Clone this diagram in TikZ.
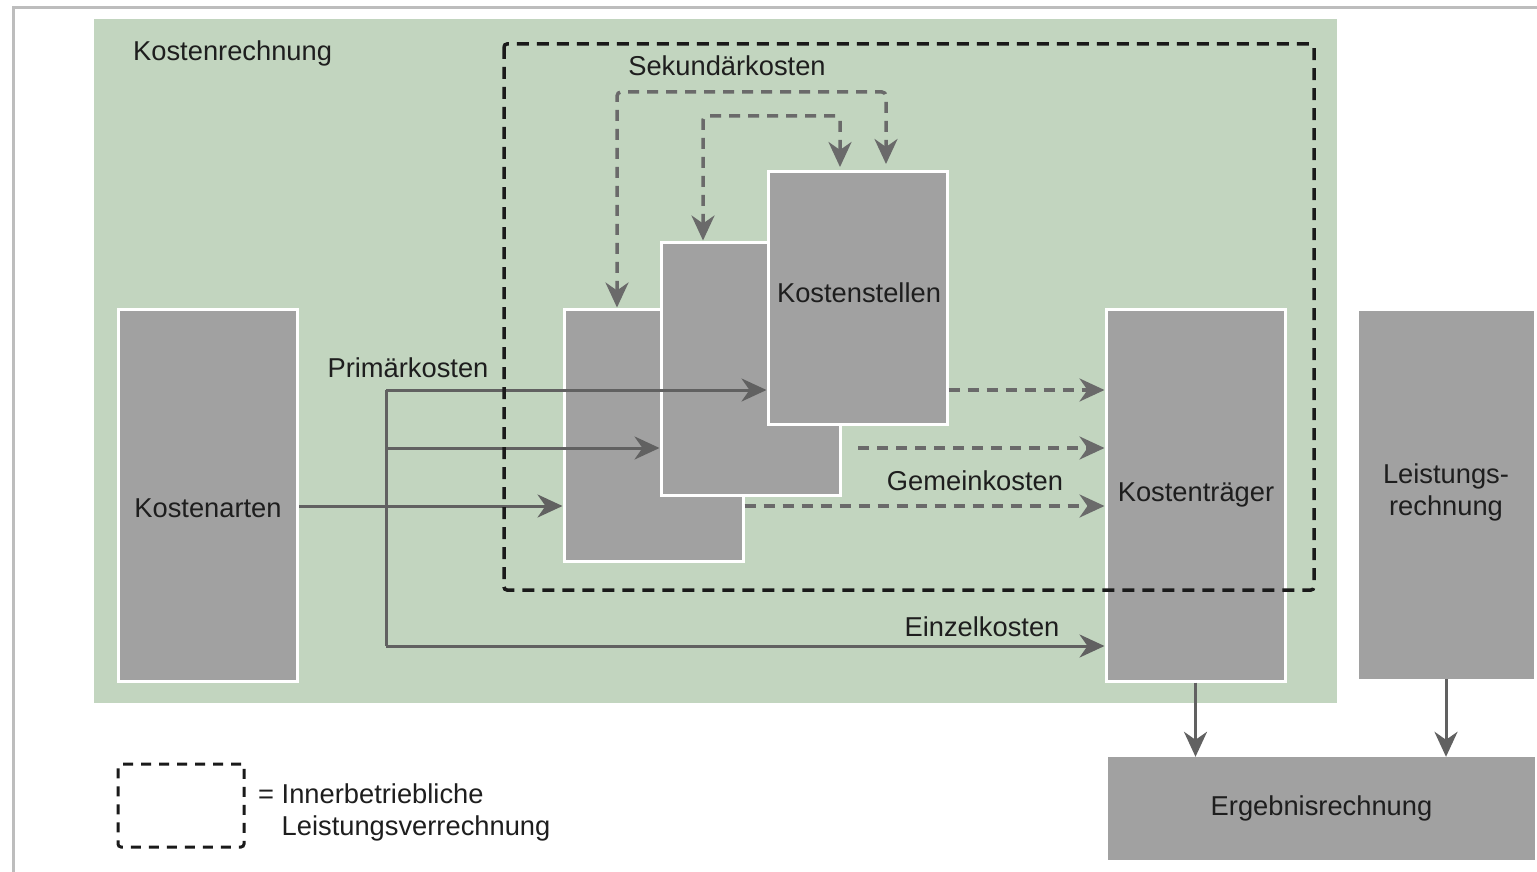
\documentclass[tikz,border=0pt]{standalone}
\usepackage{fontspec}
\setmainfont{Liberation Sans}
\usetikzlibrary{arrows.meta,calc}
\definecolor{bgreen}{HTML}{C2D5BF}
\definecolor{bgray}{HTML}{A1A1A1}
\definecolor{agray}{HTML}{616161}
\definecolor{dgray}{HTML}{6A6A6A}
\definecolor{txt}{HTML}{1E1E1E}
\definecolor{framegray}{HTML}{BDBDBD}
\definecolor{kdark}{HTML}{1A1A1A}
\begin{document}
\begin{tikzpicture}[x=1pt,y=-1pt,
  every node/.style={font=\fontsize{27.3}{32}\selectfont, text=txt},
  box/.style={fill=bgray, draw=white, line width=3pt, inner sep=0pt},
  plainbox/.style={fill=bgray, inner sep=0pt},
  lbl/.style={inner sep=0pt},
  tip/.style={-{Stealth[length=25pt,width=23pt,inset=8pt]}},
  arr/.style={draw=agray, line width=3pt, tip},
  sline/.style={draw=agray, line width=3pt},
  darr/.style={draw=dgray, line width=3.5pt, dash pattern=on 11pt off 8pt, tip},
  kdash/.style={draw=kdark, line width=3.5pt, dash pattern=on 12pt off 8pt, rounded corners=3pt}
]
\useasboundingbox (0,0) rectangle (1537,872);
\fill[white] (0,0) rectangle (1537,872);
\draw[framegray, line width=3pt] (13.5,872) -- (13.5,7.5) -- (1537,7.5);
\fill[bgreen] (94,19) rectangle (1337,703);

\node[lbl, anchor=west] (kr) at (133,53) {Kostenrechnung};

% boxes
\node[box, minimum width=179, minimum height=372] (ka) at (208,495) {};
\node[lbl] (kat) at (208,508) {Kostenarten};
\node[box, minimum width=179, minimum height=252] (ks1) at (653.5,435) {};
\node[box, minimum width=179, minimum height=253] (ks2) at (750.5,368.5) {};
\node[box, minimum width=179, minimum height=252] (ks3) at (857.5,298) {};
\node[lbl] (kst) at (859,293) {Kostenstellen};
\node[box, minimum width=179, minimum height=372] (kt) at (1195.5,495) {};
\node[lbl] (ktt) at (1196,495) {Kostenträger};
\node[plainbox, minimum width=175, minimum height=368] (lr) at (1446,495) {};
\node[lbl, align=center] (lrt) at (1446,492) {Leistungs-\\rechnung};
\node[plainbox, minimum width=427, minimum height=103] (er) at (1321.5,808.5) {Ergebnisrechnung};

% labels
\node[lbl] (sek) at (727,66) {Sekundärkosten};
\node[lbl] (pri) at (408,368) {Primärkosten};
\node[lbl] (gem) at (975,481) {Gemeinkosten};
\node[lbl] (ein) at (982,627) {Einzelkosten};

% primary cost arrows
\coordinate (b1) at (386,390);
\coordinate (b2) at (386,448);
\coordinate (b0) at (386,506);
\coordinate (b3) at (386,646);
\draw[sline] (b1) -- (b3);
\draw[arr] (ka.east |- b0) -- (ks1.west |- b0);
\draw[arr] (b1) -- (ks3.west |- b1);
\draw[arr] (b2) -- (ks2.west |- b2);
\draw[arr] (b3) -- (kt.west |- b3);

% overhead cost arrows
\coordinate (g2) at (858,448);
\draw[darr] (ks3.east |- b1) -- (kt.west |- b1);
\draw[darr] (g2) -- (kt.west |- g2);
\draw[darr] (ks1.east |- b0) -- (kt.west |- b0);

% secondary cost arrows
\coordinate (s1) at (617,92);
\coordinate (s2) at (886,92);
\coordinate (s2e) at (886,164);
\coordinate (t1) at (703,116);
\coordinate (t2) at (840,116);
\coordinate (t2e) at (840,167);
\draw[darr, rounded corners=4pt, {Stealth[length=25pt,width=23pt,inset=8pt]}-{Stealth[length=25pt,width=23pt,inset=8pt]}]
  (ks1.north -| s1) -- (s1) -- (s2) -- (s2e);
\draw[darr, rounded corners=4pt, {Stealth[length=25pt,width=23pt,inset=8pt]}-{Stealth[length=25pt,width=23pt,inset=8pt]}]
  (ks2.north -| t1) -- (t1) -- (t2) -- (t2e);

% result arrows
\draw[arr] (kt.south) -- (kt.south |- er.north);
\draw[arr] (lr.south) -- (lr.south |- er.north);

% internal service allocation box
\draw[kdash] (504,44) rectangle (1314,590);

% legend
\node[draw=kdark, line width=3pt, dash pattern=on 10pt off 8pt, rounded corners=3pt, minimum width=126, minimum height=83, inner sep=0pt] (leg) at (181,805.5) {};
\node[lbl, anchor=west, align=left] (legt) at (258,812) {= Innerbetriebliche\\\hphantom{= }Leistungsverrechnung};
\end{tikzpicture}
\end{document}
